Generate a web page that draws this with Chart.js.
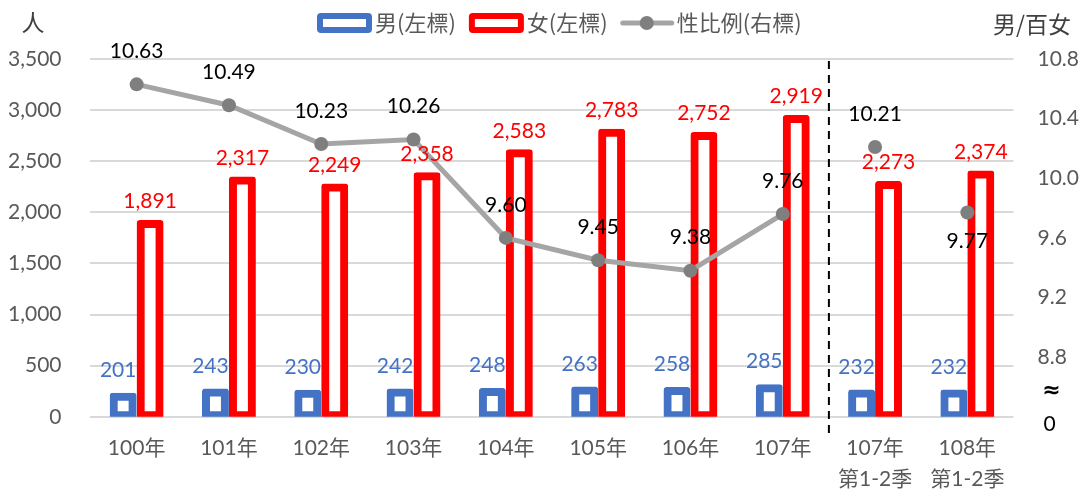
<!DOCTYPE html>
<html>
<head>
<meta charset="utf-8">
<script src="https://cdn.jsdelivr.net/npm/chart.js@4.4.1/dist/chart.umd.min.js"></script>
<style>
  html, body { margin: 0; padding: 0; background: #fff; }
  #wrap { width: 1085px; height: 491px; }
</style>
</head>
<body>
<div id="wrap"><canvas id="chart"></canvas></div>
<script>
// data
const categories = ['100年', '101年', '102年', '103年', '104年', '105年', '106年', '107年',
  ['107年', '第1-2季'], ['108年', '第1-2季']];
const male = [201, 243, 230, 242, 248, 263, 258, 285, 232, 232];
const female = [1891, 2317, 2249, 2358, 2583, 2783, 2752, 2919, 2273, 2374];
const ratio = [10.63, 10.49, 10.23, 10.26, 9.60, 9.45, 9.38, 9.76, 10.21, 9.77];

// right axis is broken: its bottom stands for 0
const rightTicks = [8.4, 8.8, 9.2, 9.6, 10.0, 10.4, 10.8];
const rightBreakLabels = ['0', '≈'];

const legendLabels = ['男(左標)', '女(左標)', '性比例(右標)'];
const leftTitle = '人';
const rightTitle = '男/百女';

const BLUE = '#4472C4';
const RED = '#FF0000';
const LINE = '#A5A5A5';
const DOT = '#7F7F7F';
const AXIS_TXT = '#595959';
const CLEAR = 'rgba(0,0,0,0)';
const FONT = 'Lato, "Noto Sans CJK TC", sans-serif';
const CJK = '"Noto Sans CJK TC", sans-serif';

const fmt = v => v.toLocaleString('en-US');

function roundRect(ctx, x, y, w, h, r) {
  ctx.beginPath();
  ctx.moveTo(x + r, y);
  ctx.lineTo(x + w - r, y);
  ctx.quadraticCurveTo(x + w, y, x + w, y + r);
  ctx.lineTo(x + w, y + h - r);
  ctx.quadraticCurveTo(x + w, y + h, x + w - r, y + h);
  ctx.lineTo(x + r, y + h);
  ctx.quadraticCurveTo(x, y + h, x, y + h - r);
  ctx.lineTo(x, y + r);
  ctx.quadraticCurveTo(x, y, x + r, y);
  ctx.closePath();
}

const extras = {
  id: 'extras',
  afterDatasetsDraw(chart) {
    const ctx = chart.ctx;
    const area = chart.chartArea;
    const xs = chart.scales.x;
    const y2 = chart.scales.y2;

    // dashed divider between annual and half-year data
    const xd = (xs.getPixelForValue(7) + xs.getPixelForValue(8)) / 2;
    ctx.save();
    ctx.strokeStyle = '#000';
    ctx.lineWidth = 2;
    ctx.setLineDash([8, 6]);
    ctx.beginPath();
    ctx.moveTo(xd, area.top + 2);
    ctx.lineTo(xd, area.bottom + 19);
    ctx.stroke();
    ctx.restore();

    // value labels
    ctx.save();
    ctx.font = '21px ' + FONT;
    ctx.textAlign = 'center';
    ctx.textBaseline = 'middle';
    chart.getDatasetMeta(0).data.forEach((bar, i) => {
      ctx.fillStyle = BLUE;
      ctx.fillText(fmt(male[i]), bar.x - 5, bar.y - 26);
    });
    chart.getDatasetMeta(1).data.forEach((bar, i) => {
      ctx.fillStyle = RED;
      ctx.fillText(fmt(female[i]), bar.x, bar.y - 22);
    });
    chart.getDatasetMeta(2).data.forEach((pt, i) => {
      ctx.fillStyle = '#000';
      const dy = i === ratio.length - 1 ? 29 : -33;
      ctx.fillText(ratio[i].toFixed(2), pt.x, pt.y + dy);
    });

    // axis break marks on the right scale
    const bx = area.right + 36;
    const yBottom = y2.getPixelForValue(rightTicks[0]);
    const yNext = y2.getPixelForValue(rightTicks[1]);
    ctx.fillText(rightBreakLabels[0], bx, yBottom + 7);
    ctx.font = 'bold 22px "DejaVu Sans", sans-serif';
    ctx.fillText(rightBreakLabels[1], bx + 2, (yBottom + yNext) / 2 + 4);
    ctx.restore();
  },
  afterDraw(chart) {
    const ctx = chart.ctx;
    ctx.save();
    ctx.textBaseline = 'middle';

    // axis titles
    ctx.fillStyle = '#404040';
    ctx.font = '23px ' + CJK;
    ctx.textAlign = 'center';
    ctx.fillText(leftTitle, 33, 22);
    ctx.textAlign = 'right';
    ctx.fillText(rightTitle, 1071, 24);

    // legend
    const ly = 23;
    let x = 317;
    ctx.font = '22px ' + CJK;
    ctx.textAlign = 'left';
    [BLUE, RED].forEach((c, i) => {
      ctx.fillStyle = c;
      roundRect(ctx, x, ly - 10, 55, 20, 4);
      ctx.fill();
      ctx.fillStyle = '#fff';
      ctx.fillRect(x + 6, ly - 4, 43, 8);
      ctx.fillStyle = AXIS_TXT;
      ctx.fillText(legendLabels[i], x + 58, ly);
      x += 58 + ctx.measureText(legendLabels[i]).width + 13;
    });
    ctx.strokeStyle = LINE;
    ctx.lineWidth = 5;
    ctx.lineCap = 'round';
    ctx.beginPath();
    ctx.moveTo(x + 2, ly);
    ctx.lineTo(x + 51, ly);
    ctx.stroke();
    ctx.fillStyle = DOT;
    ctx.beginPath();
    ctx.arc(x + 26, ly, 7, 0, Math.PI * 2);
    ctx.fill();
    ctx.fillStyle = AXIS_TXT;
    ctx.fillText(legendLabels[2], x + 56, ly);
    ctx.restore();
  }
};

// Excel strokes bar outlines centred on the edge, so inflate the rects a little
const barStyle = color => ({
  backgroundColor: '#fff',
  borderColor: color,
  borderWidth: 8,
  borderSkipped: false,
  borderRadius: 3,
  inflateAmount: 3.5,
  categoryPercentage: 0.584,
  barPercentage: 0.74,
  order: 1,
});

new Chart(document.getElementById('chart'), {
  type: 'bar',
  data: {
    labels: categories,
    datasets: [
      Object.assign({ label: legendLabels[0], data: male, yAxisID: 'y' }, barStyle(BLUE)),
      Object.assign({ label: legendLabels[1], data: female, yAxisID: 'y' }, barStyle(RED)),
      {
        type: 'line',
        label: legendLabels[2],
        data: ratio,
        yAxisID: 'y2',
        order: 0,
        borderColor: LINE,
        borderWidth: 5,
        pointRadius: 7,
        pointBorderWidth: 0,
        pointBackgroundColor: DOT,
        tension: 0,
        segment: {
          // no connecting line into the half-year points
          borderColor: c => c.p0DataIndex >= 7 ? CLEAR : LINE,
        },
      },
    ],
  },
  options: {
    responsive: true,
    maintainAspectRatio: false,
    animation: false,
    layout: { padding: { top: 59, left: 0, right: 0, bottom: -4 } },
    plugins: {
      legend: { display: false },
      tooltip: { enabled: false },
    },
    scales: {
      x: {
        grid: { display: true, drawOnChartArea: false, tickColor: CLEAR, tickLength: 16 },
        border: { display: false },
        ticks: {
          color: AXIS_TXT,
          font: { family: FONT, size: 21, lineHeight: 1.48 },
          padding: 0,
          maxRotation: 0,
          autoSkip: false,
        },
      },
      y: {
        position: 'left',
        min: 0,
        max: 3500,
        grid: { color: '#D9D9D9', lineWidth: 2, tickColor: CLEAR, tickLength: 21 },
        border: { display: false },
        ticks: {
          stepSize: 500,
          padding: 8,
          color: AXIS_TXT,
          font: { family: FONT, size: 21 },
          callback: v => fmt(v),
        },
      },
      y2: {
        position: 'right',
        min: rightTicks[0],
        max: rightTicks[rightTicks.length - 1],
        grid: { display: true, drawOnChartArea: false, tickColor: CLEAR, tickLength: 18 },
        border: { display: false },
        afterBuildTicks: s => { s.ticks = rightTicks.map(v => ({ value: v })); },
        ticks: {
          padding: 6,
          color: AXIS_TXT,
          font: { family: FONT, size: 21 },
          callback: (v, i) => i === 0 ? '' : v.toFixed(1),
        },
      },
    },
  },
  plugins: [extras],
});
</script>
</body>
</html>
